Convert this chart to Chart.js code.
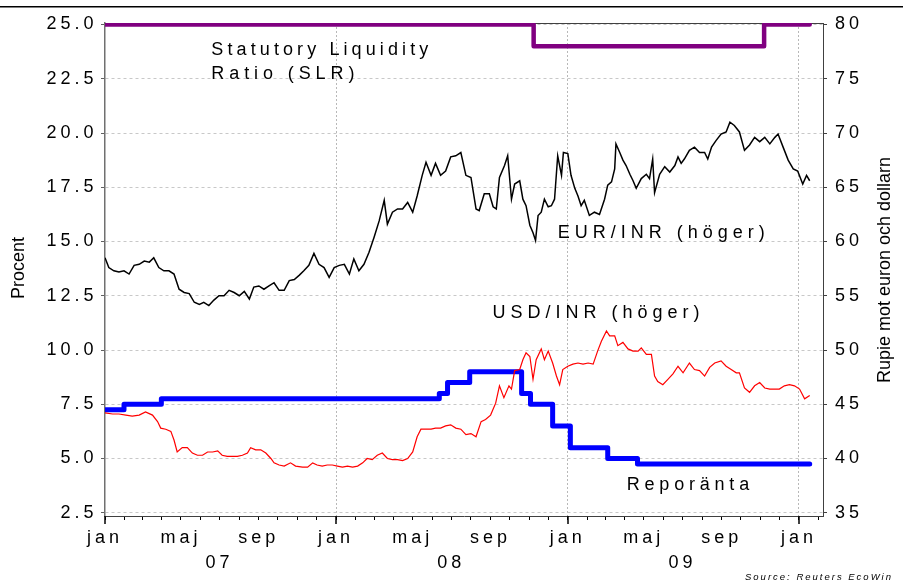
<!DOCTYPE html>
<html><head><meta charset="utf-8">
<script src="https://cdn.jsdelivr.net/npm/chart.js@4/dist/chart.umd.min.js"></script>
<style>html,body{margin:0;padding:0;background:#fff;}canvas{display:block;}</style>
</head><body>
<canvas id="c" width="903" height="582"></canvas>
<script>
// x values are days since 2007-01-01
const eurDays = [0,6,14,22,30,38,46,54,62,70,77,85,93,101,109,117,125,133,141,149,156,164,172,180,188,196,204,212,220,228,235,243,251,259,267,275,283,291,299,307,314,322,330,338,346,354,362,370,378,386,393,401,409,417,425,433,441,446,454,462,470,478,486,493,501,507,515,522,530,538,546,554,562,570,578,586,591,599,607,613,618,623,631,636,642,647,655,660,665,671,676,680,684,689,694,700,705,710,715,721,724,731,736,742,747,752,757,765,773,781,789,794,800,805,807,813,818,823,829,834,839,847,855,860,865,868,876,884,892,900,905,910,915,923,931,939,947,952,958,965,973,981,987,994,1002,1010,1018,1026,1034,1042,1050,1058,1063,1071,1079,1087,1094,1102,1108,1113];
const eurValues = [58.5,57.6,57.3,57.2,57.3,57.0,57.8,57.9,58.2,58.1,58.5,57.6,57.3,57.3,57.0,55.6,55.3,55.2,54.4,54.2,54.4,54.1,54.6,55.0,55.0,55.5,55.3,55.0,55.4,54.7,55.8,55.9,55.6,55.9,56.2,55.5,55.5,56.4,56.5,56.9,57.3,57.8,58.9,57.9,57.6,56.7,57.6,57.8,57.9,57.0,58.4,57.3,57.9,59.0,60.4,61.9,63.8,61.6,62.7,63.0,63.0,63.6,62.7,64.2,66.1,67.3,66.1,67.2,66.1,66.5,67.8,67.9,68.2,66.1,65.9,63.0,62.85,64.4,64.4,63.2,63.0,65.9,67.0,67.9,63.9,65.3,65.6,63.9,63.3,61.5,60.8,60.1,62.4,62.7,63.9,63.2,63.3,63.9,67.9,66.1,68.2,68.1,66.1,64.9,64.2,63.3,63.8,62.4,62.7,62.5,63.9,65.2,65.5,66.7,69.0,68.2,67.5,67.0,66.2,65.6,64.9,65.8,66.2,65.8,67.6,64.5,66.2,66.9,66.4,67.0,67.8,67.2,67.6,68.4,68.7,68.2,68.2,67.6,68.7,69.3,69.9,70.1,71.0,70.7,70.1,68.4,68.9,69.6,69.2,69.6,69.0,69.6,69.9,68.7,67.5,66.7,66.5,65.3,66.1,65.6];

const usdDays = [0,12,22,33,43,54,64,75,83,88,96,104,109,114,122,130,138,146,154,162,170,178,185,193,201,209,217,225,230,238,246,254,262,267,275,283,293,301,312,320,328,335,343,351,359,367,375,383,391,399,407,414,422,430,438,446,454,462,470,478,486,493,499,507,515,522,530,538,546,554,562,570,578,586,594,601,609,617,623,630,638,642,647,655,660,665,671,676,681,689,694,700,707,713,718,723,731,739,747,755,763,771,778,784,792,797,805,810,818,826,834,842,847,855,863,868,873,881,889,897,905,913,923,931,939,947,955,963,973,981,989,997,1002,1010,1018,1026,1034,1042,1050,1058,1065,1073,1081,1089,1097,1105,1113];
const usdValues = [44.2,44.1,44.1,44.0,43.9,44.0,44.3,44.0,43.4,42.8,42.7,42.5,41.7,40.6,41.0,41.0,40.5,40.3,40.3,40.6,40.6,40.7,40.3,40.2,40.2,40.2,40.3,40.5,41.0,40.8,40.8,40.5,40.0,39.6,39.4,39.3,39.6,39.3,39.2,39.2,39.6,39.4,39.3,39.4,39.4,39.3,39.2,39.3,39.2,39.3,39.6,40.0,39.9,40.3,40.5,40.0,39.9,39.9,39.8,40.0,40.6,42.0,42.7,42.7,42.7,42.8,42.8,43.0,43.1,42.8,42.7,42.2,42.3,42.0,43.4,43.6,44.0,45.1,46.7,45.6,46.7,46.4,48.1,48.2,49.1,49.75,49.4,47.3,49.1,50.1,49.1,49.9,48.8,47.6,46.8,48.2,48.5,48.7,48.8,48.7,48.8,48.7,49.9,50.8,51.75,51.3,51.3,50.4,50.7,50.1,49.9,49.9,50.2,49.6,49.6,47.6,47.1,46.8,47.3,47.8,48.5,47.9,48.8,48.2,48.1,47.6,48.4,48.8,49.0,48.5,48.2,47.9,47.9,46.5,46.1,46.7,47.0,46.5,46.4,46.4,46.4,46.7,46.8,46.7,46.4,45.5,45.8];

const repoDays = [0,30,89,528,541,576,658,672,707,735,794,841,1113];
const repoValues = [7.25,7.5,7.75,8.0,8.5,9.0,8.0,7.5,6.5,5.5,5.0,4.75,4.75];

const slrDays = [0,677,1041,1113];
const slrValues = [25,24,25,25];

const leftTicks = [2.5,5.0,7.5,10.0,12.5,15.0,17.5,20.0,22.5,25.0];
const rightTicks = [35,40,45,50,55,60,65,70,75,80];
const monthNames = ['jan','feb','mar','apr','maj','jun','jul','aug','sep','okt','nov','dec'];
const shownMonths = ['jan','maj','sep'];
const yearLabels = {2007:'07',2008:'08',2009:'09'};

const annotations = [
  {text:'Statutory Liquidity', day:168, value:23.58, sp:4.1},
  {text:'Ratio (SLR)', day:168, value:22.48, sp:4.9},
  {text:'EUR/INR (höger)', day:715, value:15.15, sp:5.0},
  {text:'USD/INR (höger)', day:612, value:11.49, sp:5.0},
  {text:'Reporänta', day:824, value:3.53, sp:4.8}
];

const X_MAX = 1134;
const base = Date.UTC(2007,0,1);
const monthTicks = [];
for (let y=2007; y<=2010; y++) for (let m=0; m<12; m++) {
  const d = Math.round((Date.UTC(y,m,1)-base)/864e5);
  if (d <= X_MAX) monthTicks.push({value:d, y, m});
}
const tickInfo = v => monthTicks.find(t => t.value === v);

const pts = (xs, ys) => xs.map((x,i)=>({x, y: ys[i]}));
const FONT = '"Liberation Sans", Arial, sans-serif';
Chart.defaults.font.family = FONT;
Chart.defaults.font.size = 18;
Chart.defaults.color = '#000';

const textPlugin = {
  id:'texts',
  beforeDraw(chart){ chart.ctx.letterSpacing = '4px'; },
  beforeDatasetsDraw(chart){
    const {ctx, chartArea:a} = chart;
    ctx.save();
    ctx.strokeStyle = '#404040'; ctx.lineWidth = 1;
    ctx.beginPath();
    ctx.moveTo(a.left, a.top+0.5); ctx.lineTo(a.right, a.top+0.5);
    ctx.stroke();
    ctx.restore();
  },
  afterDraw(chart){
    const {ctx, scales, chartArea:a} = chart;
    ctx.save();
    // longer tick marks at each January
    ctx.strokeStyle = '#000'; ctx.lineWidth = 1.5;
    monthTicks.filter(t => t.m === 0).forEach(t => {
      const px = Math.round(scales.x.getPixelForValue(t.value));
      ctx.beginPath(); ctx.moveTo(px, a.bottom); ctx.lineTo(px, a.bottom + 8); ctx.stroke();
    });
    ctx.fillStyle = '#000';
    ctx.fillRect(0, 6, 903, 1.5);
    ctx.font = '18px ' + FONT;
    ctx.textAlign = 'left'; ctx.textBaseline = 'alphabetic';
    annotations.forEach(l => {
      ctx.letterSpacing = l.sp + 'px';
      ctx.fillText(l.text, scales.x.getPixelForValue(l.day), scales.y.getPixelForValue(l.value));
    });
    ctx.letterSpacing = '0px';
    ctx.textAlign = 'center'; ctx.textBaseline = 'middle';
    ctx.save(); ctx.translate(19, 268); ctx.rotate(-Math.PI/2); ctx.fillText('Procent', 0, 0); ctx.restore();
    ctx.save(); ctx.translate(885, 270); ctx.rotate(-Math.PI/2); ctx.fillText('Rupie mot euron och dollarn', 0, 0); ctx.restore();
    ctx.font = 'italic 9.5px ' + FONT;
    ctx.letterSpacing = '2px';
    ctx.textAlign = 'left'; ctx.textBaseline = 'alphabetic';
    ctx.fillText('Source: Reuters EcoWin', 745, 580);
    ctx.restore();
  }
};

new Chart(document.getElementById('c'), {
  type:'line',
  data:{ datasets:[
    {label:'USD/INR', data:pts(usdDays,usdValues), yAxisID:'y2', borderColor:'#ff0000', borderWidth:1.2, pointRadius:0, tension:0},
    {label:'EUR/INR', data:pts(eurDays,eurValues), yAxisID:'y2', borderColor:'#000000', borderWidth:1.5, pointRadius:0, tension:0},
    {label:'SLR', data:pts(slrDays,slrValues), yAxisID:'y', borderColor:'#800080', borderWidth:4.5, pointRadius:0, stepped:true, borderCapStyle:'round', borderJoinStyle:'round'},
    {label:'Reporänta', data:pts(repoDays,repoValues), yAxisID:'y', borderColor:'#0000ff', borderWidth:5, pointRadius:0, stepped:true, borderCapStyle:'round', borderJoinStyle:'round'}
  ]},
  options:{
    responsive:false, animation:false, devicePixelRatio:1,
    layout:{padding:{top:23,left:0,right:0,bottom:0}},
    plugins:{legend:{display:false}, tooltip:{enabled:false}},
    scales:{
      x:{
        type:'linear', min:0, max:X_MAX,
        afterBuildTicks: s => { s.ticks = monthTicks.map(t => ({value:t.value})); },
        afterFit: s => { s.height = 66; },
        ticks:{
          autoSkip:false, maxRotation:0, minRotation:0, padding:6,
          font:{size:18, lineHeight:'25px'},
          callback: v => {
            const t = tickInfo(v); if (!t) return '';
            const name = monthNames[t.m];
            if (shownMonths.includes(name)) return name;
            if (t.m === 6 && yearLabels[t.y]) return ['', yearLabels[t.y]];
            return '';
          }
        },
        grid:{
          drawOnChartArea:true, tickLength:4,
          color: c => { const t = c.tick && tickInfo(c.tick.value); return (t && t.m===0 && t.value>0) ? '#b8b8b8' : 'rgba(0,0,0,0)'; },
          tickColor:'#000', lineWidth:1
        },
        border:{display:true, color:'#404040', width:1, dash:[2,2]}
      },
      y:{
        position:'left', min:2.35, max:25.07,
        afterBuildTicks: s => { s.ticks = leftTicks.map(v => ({value:v})); },
        afterFit: s => { s.width = 105; },
        ticks:{ padding:3.5, callback: v => v.toFixed(1) },
        grid:{ color:'#c8c8c8', tickColor:'#606060', tickLength:4, lineWidth:1 },
        border:{ display:true, color:'#707070', width:1.5, dash:[3,3] }
      },
      y2:{
        position:'right', min:34.7, max:80.14,
        afterBuildTicks: s => { s.ticks = rightTicks.map(v => ({value:v})); },
        afterFit: s => { s.width = 80; },
        ticks:{ padding:8, callback: v => String(v) },
        grid:{ drawOnChartArea:false, tickColor:'#404040', tickLength:4 },
        border:{ display:true, color:'#404040', width:1 }
      }
    }
  },
  plugins:[textPlugin]
});
</script>
</body></html>
